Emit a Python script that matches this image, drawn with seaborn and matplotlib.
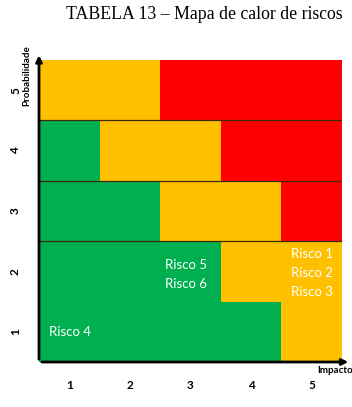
import numpy as np
import matplotlib
matplotlib.use("Agg")
import matplotlib.pyplot as plt
import seaborn as sns
from matplotlib.colors import ListedColormap

# === Données ===
impacto = ["1", "2", "3", "4", "5"]
probabilidade = ["5", "4", "3", "2", "1"]
# 0 = verde, 1 = amarelo, 2 = vermelho (linhas de cima para baixo: prob 5 -> 1)
nivel_p5 = [1, 1, 2, 2, 2]
nivel_p4 = [0, 1, 1, 2, 2]
nivel_p3 = [0, 0, 1, 1, 2]
nivel_p2 = [0, 0, 0, 1, 1]
nivel_p1 = [0, 0, 0, 0, 1]
riscos = ["Risco 4", "Risco 5\nRisco 6", "Risco 1\nRisco 2\nRisco 3"]

matriz = np.array([nivel_p5, nivel_p4, nivel_p3, nivel_p2, nivel_p1])
cores = ListedColormap(["#00B050", "#FFC000", "#FF0000"])

fig = plt.figure(figsize=(3.52, 4.07), dpi=100)
ax = fig.add_axes([39 / 352, 45 / 407, 303 / 352, 302 / 407])
sns.heatmap(matriz, cmap=cores, vmin=-0.5, vmax=2.5, cbar=False, ax=ax,
            xticklabels=impacto, yticklabels=probabilidade)

# linhas horizontais entre as faixas
for y in [1, 2, 3]:
    ax.axhline(y, color="#3a2a00", lw=0.9)

# textos dos riscos
fonte = ["Lato", "DejaVu Sans"]
ax.text(0.17, 4.5, riscos[0], color="white", fontsize=9.5, ha="left", va="center", family=fonte)
ax.text(2.08, 3.55, riscos[1], color="white", fontsize=9.5, ha="left", va="center",
        linespacing=1.7, family=fonte)
ax.text(4.5, 3.53, riscos[2], color="white", fontsize=9.5, ha="center", va="center",
        linespacing=1.7, family=fonte)

# eixos com setas
ax.annotate("", xy=(0, 1.025), xytext=(0, 0), xycoords="axes fraction",
            arrowprops=dict(arrowstyle="-|>", color="black", lw=2, mutation_scale=9),
            annotation_clip=False)
ax.annotate("", xy=(1.03, 0), xytext=(0, 0), xycoords="axes fraction",
            arrowprops=dict(arrowstyle="-|>", color="black", lw=2, mutation_scale=9),
            annotation_clip=False)
ax.text(-0.025, 1.05, "Probabilidade", transform=ax.transAxes, rotation=90, ha="right", va="top",
        fontsize=7, fontweight="bold", family=fonte)
ax.text(1.035, -0.012, "Impacto", transform=ax.transAxes, ha="right", va="top",
        fontsize=7, fontweight="bold", family=fonte)

ax.tick_params(length=0, pad=13)
ax.set_xticklabels(impacto, fontsize=8.5, fontweight="bold", family=fonte)
ax.set_yticklabels(probabilidade, fontsize=8.5, fontweight="bold", family=fonte, rotation=90, va="center")

fig.text(0.58, 0.965, "TABELA 13 – Mapa de calor de riscos", ha="center", va="center",
         fontsize=12.8, family="Liberation Serif")

plt.savefig("out.png", dpi=100)
plt.close()
